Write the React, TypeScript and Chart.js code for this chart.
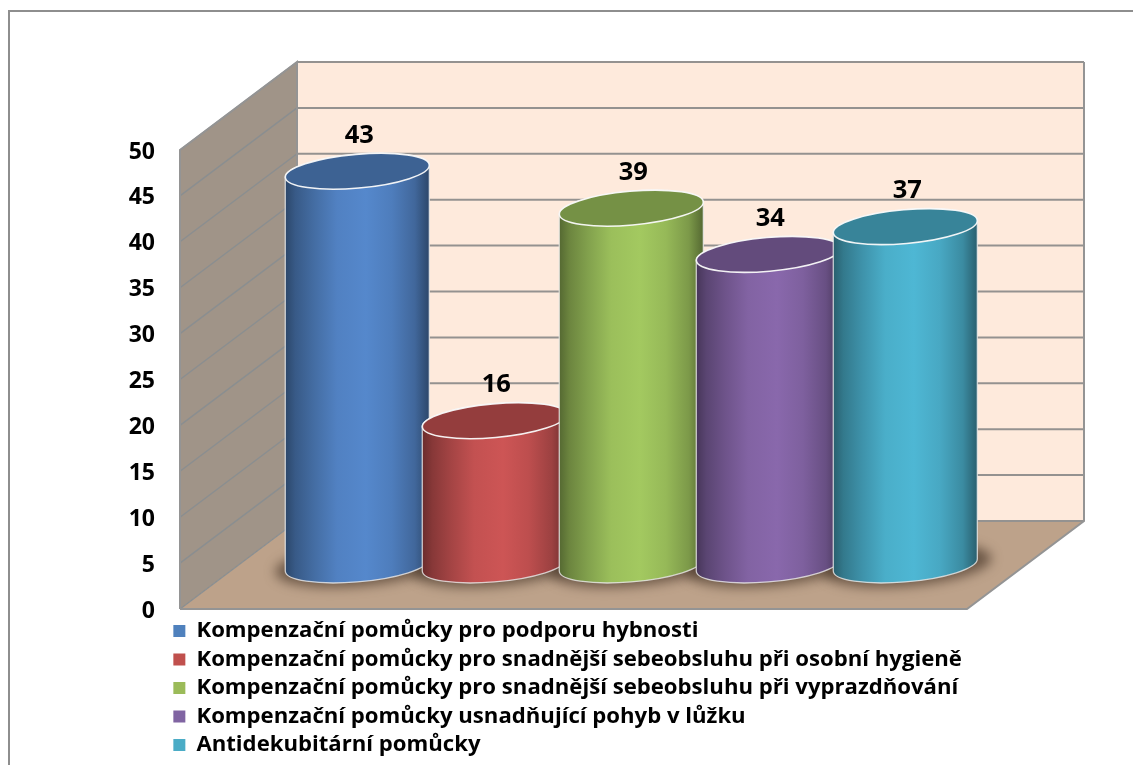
import React, { useEffect, useRef } from "react";
import { Chart, registerables } from "chart.js";

Chart.register(...registerables);

const CATEGORIES = [""];
const SERIES_NAMES = [
  "Kompenzační pomůcky pro podporu hybnosti",
  "Kompenzační pomůcky pro snadnější sebeobsluhu při osobní hygieně",
  "Kompenzační pomůcky pro snadnější sebeobsluhu při vyprazdňování",
  "Kompenzační pomůcky usnadňující pohyb v lůžku",
  "Antidekubitární pomůcky",
];
const SERIES_VALUES = [43, 16, 39, 34, 37];
const SERIES_COLORS = ["#5588CC", "#CD5555", "#A3C960", "#8968AC", "#4EB7D4"];
const LEGEND_COLORS = ["#4F81BD", "#C0504D", "#9BBB59", "#8064A2", "#4BACC6"];

const FONT = "'Open Sans', Lato, sans-serif";
const DEPTH_X = 117;
const DEPTH_Y = 88;

function shade(hex: string, f: number) {
  const n = parseInt(hex.slice(1), 16);
  const c = [(n >> 16) & 255, (n >> 8) & 255, n & 255].map((v) => Math.round(v * f));
  return `rgb(${c[0]},${c[1]},${c[2]})`;
}

const framePlugin = {
  id: "frame3d",
  beforeDraw(chart: any) {
    const { ctx, chartArea: a, scales } = chart;
    const y = scales.y;
    const L = a.left, R = a.right, T = a.top, B = a.bottom;
    ctx.save();
    ctx.strokeStyle = "#8E8E8E";
    ctx.lineWidth = 2;
    ctx.strokeRect(9, 11, 1140, 800);
    ctx.fillStyle = "#FEEADC";
    ctx.fillRect(L + DEPTH_X, T - DEPTH_Y, R - L, B - T);
    ctx.beginPath();
    ctx.moveTo(L, T);
    ctx.lineTo(L + DEPTH_X, T - DEPTH_Y);
    ctx.lineTo(L + DEPTH_X, B - DEPTH_Y);
    ctx.lineTo(L, B);
    ctx.closePath();
    ctx.fillStyle = "#A09488";
    ctx.fill();
    ctx.beginPath();
    ctx.moveTo(L, B);
    ctx.lineTo(L + DEPTH_X, B - DEPTH_Y);
    ctx.lineTo(R + DEPTH_X, B - DEPTH_Y);
    ctx.lineTo(R, B);
    ctx.closePath();
    ctx.fillStyle = "#BDA28A";
    ctx.fill();
    ctx.lineCap = "butt";
    y.ticks.forEach((t: any) => {
      const py = y.getPixelForValue(t.value);
      ctx.strokeStyle = "#8A8E90";
      ctx.lineWidth = 1.4;
      ctx.beginPath();
      ctx.moveTo(L, py);
      ctx.lineTo(L + DEPTH_X, py - DEPTH_Y);
      ctx.stroke();
      ctx.strokeStyle = "#949290";
      ctx.lineWidth = 2;
      ctx.beginPath();
      ctx.moveTo(L + DEPTH_X, py - DEPTH_Y);
      ctx.lineTo(R + DEPTH_X, py - DEPTH_Y);
      ctx.stroke();
    });
    ctx.strokeStyle = "#949494";
    ctx.lineWidth = 2;
    ctx.beginPath();
    ctx.moveTo(L, B);
    ctx.lineTo(L, T);
    ctx.lineTo(L + DEPTH_X, T - DEPTH_Y);
    ctx.lineTo(L + DEPTH_X, B - DEPTH_Y);
    ctx.moveTo(R + DEPTH_X, T - DEPTH_Y);
    ctx.lineTo(R + DEPTH_X, B - DEPTH_Y);
    ctx.lineTo(R, B);
    ctx.lineTo(L, B);
    ctx.stroke();
    ctx.restore();
  },
};

const cylinderPlugin = {
  id: "cylinders",
  beforeDatasetsDraw(chart: any) {
    const { ctx } = chart;
    const theta = (-5 * Math.PI) / 180;
    const metas = chart.data.datasets.map((_: any, i: number) => chart.getDatasetMeta(i));
    const geom = metas.map((m: any) => {
      const el = m.data[0];
      const halfW = el.width * 0.5255;
      const a = halfW * 1.004;
      const b = a * 0.2337;
      const base = el.base;
      return {
        cx: el.x + DEPTH_X / 2 - 0.7,
        halfW,
        a,
        b,
        top: base - 40.5 - (base - el.y) * 1.0065,
        bot: base - 44,
      };
    });
    ctx.save();
    ctx.filter = "blur(6px)";
    ctx.fillStyle = "rgba(70,52,38,0.68)";
    geom.forEach((g: any) => {
      ctx.beginPath();
      ctx.ellipse(g.cx + 2, g.bot, g.a + 12, g.b + 4, theta, 0, Math.PI * 2);
      ctx.fill();
    });
    ctx.restore();

    const t0 = Math.atan(0.2337 * Math.tan(-theta));
    geom.forEach((g: any, i: number) => {
      const col = SERIES_COLORS[i];
      const grad = ctx.createLinearGradient(g.cx - g.halfW, 0, g.cx + g.halfW, 0);
      grad.addColorStop(0, shade(col, 0.52));
      grad.addColorStop(0.07, shade(col, 0.66));
      grad.addColorStop(0.2, shade(col, 0.8));
      grad.addColorStop(0.36, shade(col, 0.95));
      grad.addColorStop(0.56, shade(col, 1));
      grad.addColorStop(0.74, shade(col, 0.92));
      grad.addColorStop(0.9, shade(col, 0.76));
      grad.addColorStop(1, shade(col, 0.52));
      ctx.save();
      ctx.beginPath();
      ctx.ellipse(g.cx, g.bot, g.a, g.b, theta, t0, t0 + Math.PI);
      ctx.ellipse(g.cx, g.top, g.a, g.b, theta, t0 + Math.PI, t0 + 2 * Math.PI);
      ctx.closePath();
      ctx.fillStyle = grad;
      ctx.fill();
      ctx.strokeStyle = "rgba(235,235,235,0.8)";
      ctx.lineWidth = 1.3;
      ctx.stroke();
      ctx.beginPath();
      ctx.ellipse(g.cx, g.top, g.a, g.b, theta, 0, Math.PI * 2);
      ctx.fillStyle = shade(col, 0.72);
      ctx.fill();
      ctx.strokeStyle = "rgba(250,250,250,0.95)";
      ctx.lineWidth = 1.6;
      ctx.stroke();
      ctx.restore();
    });
    ctx.save();
    ctx.font = `bold 25.5px ${FONT}`;
    ctx.fillStyle = "#000";
    ctx.textAlign = "center";
    ctx.textBaseline = "middle";
    geom.forEach((g: any, i: number) => {
      ctx.fillText(String(SERIES_VALUES[i]), g.cx + 2, g.top - 35.5);
    });
    ctx.restore();
    return false;
  },
};

const legendPlacer = {
  id: "legendPlacer",
  afterLayout(chart: any) {
    const l = chart.legend;
    l.left = 167;
    l.top = 613.5;
    l.width = 960;
    l.height = 151;
    l.right = l.left + l.width;
    l.bottom = l.top + l.height;
  },
};

export default function App() {
  const ref = useRef<HTMLCanvasElement | null>(null);
  useEffect(() => {
    const chart = new Chart(ref.current as HTMLCanvasElement, {
      type: "bar",
      data: {
        labels: CATEGORIES,
        datasets: SERIES_NAMES.map((name, i) => ({
          label: name,
          data: [SERIES_VALUES[i]],
          backgroundColor: LEGEND_COLORS[i],
          borderWidth: 0,
          categoryPercentage: 0.8704,
          barPercentage: 1,
        })),
      },
      options: {
        animation: false,
        responsive: false,
        layout: { padding: { top: 150, right: 166, bottom: 156, left: 0 } },
        scales: {
          x: { display: false },
          y: {
            min: 0,
            max: 50,
            ticks: {
              stepSize: 5,
              padding: 25,
              labelOffset: 2,
              color: "#000",
              font: { family: FONT, weight: "bold", size: 23 },
            },
            grid: { display: false, drawTicks: false },
            border: { display: false },
            afterFit(s: any) {
              s.width = 180;
            },
          },
        },
        plugins: {
          tooltip: { enabled: false },
          legend: {
            position: "chartArea",
            align: "start",
            labels: {
              boxWidth: 12,
              boxHeight: 12,
              padding: 6.35,
              color: "#000",
              font: { family: FONT, weight: "bold", size: 22.15 },
            },
          },
        },
      },
      plugins: [framePlugin, cylinderPlugin, legendPlacer],
    } as any);
    return () => chart.destroy();
  }, []);
  return (
    <div style={{ position: "fixed", left: 0, top: 0, width: 1133, height: 765, background: "#fff", overflow: "hidden" }}>
      <canvas ref={ref} width={1133} height={765} style={{ display: "block" }} />
    </div>
  );
}
